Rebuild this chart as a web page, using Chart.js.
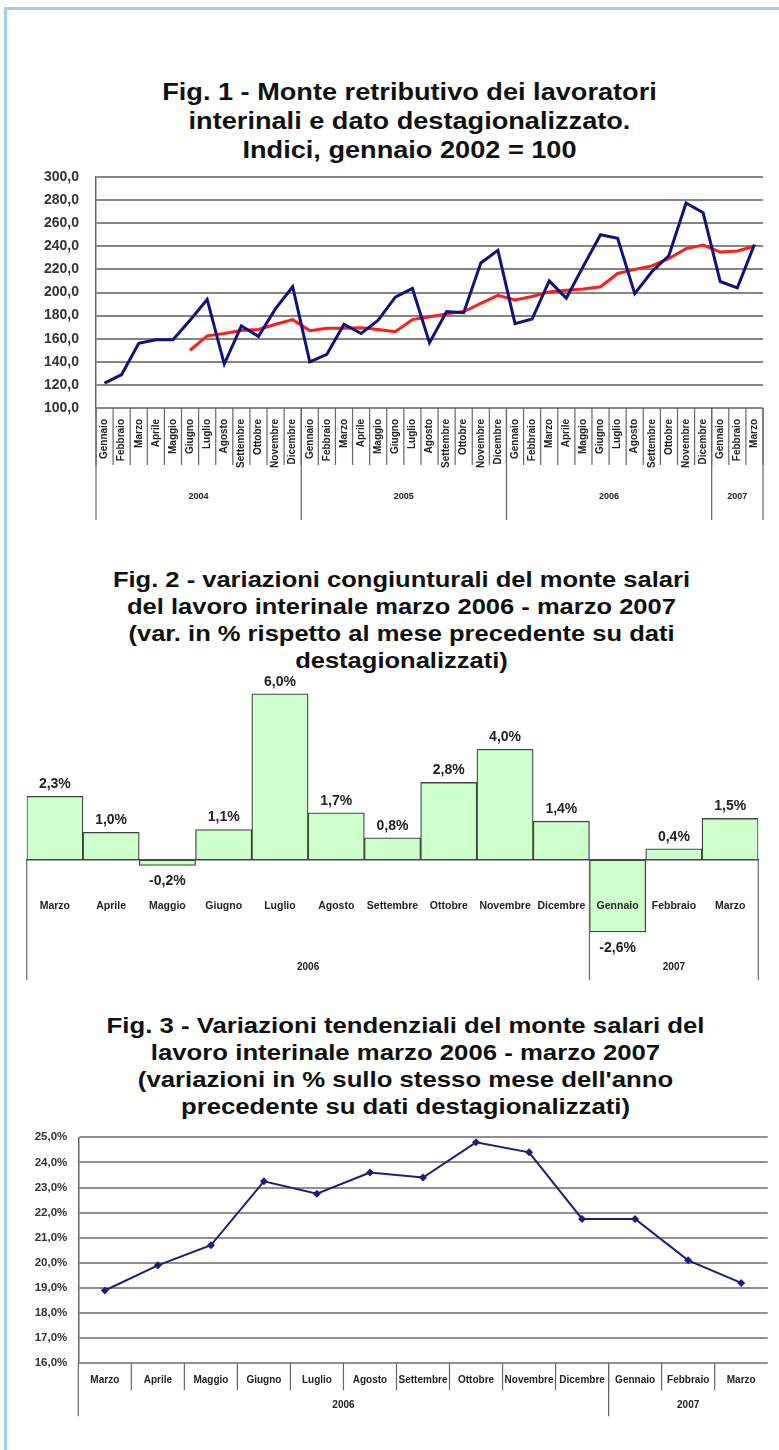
<!DOCTYPE html>
<html>
<head>
<meta charset="utf-8">
<script src="https://cdn.jsdelivr.net/npm/chart.js@4.4.1/dist/chart.umd.min.js"></script>
<style>
  body { margin: 0; background: #fff; }
  #page { position: relative; width: 779px; height: 1450px; overflow: hidden; background: #fff; }
  #frame { position: absolute; left: 4px; top: 7px; width: 820px; height: 1500px; border: 3px solid #9fcdff; box-sizing: border-box; }
  .title { position: absolute; width: 779px; text-align: center; font-family: "Liberation Sans", Arial, sans-serif; font-weight: bold; color: #111; }
  canvas { position: absolute; left: 0; }
</style>
</head>
<body>
<div id="page">
  <div id="frame"></div>

  <div class="title" style="left:20px; top:78px; font-size:23px; line-height:29px; transform:scaleX(1.18);">
    Fig. 1 - Monte retributivo dei lavoratori<br>interinali e dato destagionalizzato.<br>Indici, gennaio 2002 = 100
  </div>
  <canvas id="fig1" width="779" height="365" style="top:165px"></canvas>

  <div class="title" style="left:12px; top:566px; font-size:22px; line-height:27px; transform:scaleX(1.16);">
    Fig. 2 - variazioni congiunturali del monte salari<br>del lavoro interinale marzo 2006 - marzo 2007<br>(var. in % rispetto al mese precedente su dati<br>destagionalizzati)
  </div>
  <canvas id="fig2" width="779" height="320" style="top:670px"></canvas>

  <div class="title" style="left:16px; top:1012px; font-size:22px; line-height:27px; transform:scaleX(1.17);">
    Fig. 3 - Variazioni tendenziali del monte salari del<br>lavoro interinale marzo 2006 - marzo 2007<br>(variazioni in % sullo stesso mese dell'anno<br>precedente su dati destagionalizzati)
  </div>
  <canvas id="fig3" width="779" height="300" style="top:1125px"></canvas>
</div>

<script>
// Fig. 1 - monthly index, Jan 2004 - Mar 2007
const months1 = [
  'Gennaio','Febbraio','Marzo','Aprile','Maggio','Giugno','Luglio','Agosto','Settembre','Ottobre','Novembre','Dicembre',
  'Gennaio','Febbraio','Marzo','Aprile','Maggio','Giugno','Luglio','Agosto','Settembre','Ottobre','Novembre','Dicembre',
  'Gennaio','Febbraio','Marzo','Aprile','Maggio','Giugno','Luglio','Agosto','Settembre','Ottobre','Novembre','Dicembre',
  'Gennaio','Febbraio','Marzo'
];
const years1 = ['2004', '2005', '2006', '2007'];
const yearSpans1 = [12, 12, 12, 3];
const grezzo = [
  121.5, 129, 156, 159, 159, 176, 194, 138, 171, 162, 186, 205,
  140, 146.5, 172.5, 164.5, 176, 196, 203.5, 156.5, 183.5, 182.5, 225.5, 236.5,
  173, 177, 210, 195, 223, 250, 247, 199, 218, 232, 277.5, 269,
  209.5, 204, 241.5
];
const destag = [
  null, null, null, null, null, 150, 162.5, 164.5, 167, 168, 172.5, 176.5,
  167, 169, 169, 169.5, 168, 166, 176.5, 179, 181.5, 183.5, 190.5, 197.5,
  193.5, 196.5, 200.5, 202, 203, 205, 216.5, 220, 223, 229.5, 238, 241,
  235, 236, 240
];

// Fig. 2 - month on month change, Mar 2006 - Mar 2007
const months2 = ['Marzo','Aprile','Maggio','Giugno','Luglio','Agosto','Settembre','Ottobre','Novembre','Dicembre','Gennaio','Febbraio','Marzo'];
const years2 = ['2006', '2007'];
const yearSpans2 = [10, 3];
const congiunturali = [2.3, 1.0, -0.2, 1.1, 6.0, 1.7, 0.8, 2.8, 4.0, 1.4, -2.6, 0.4, 1.5];

// Fig. 3 - year on year change, Mar 2006 - Mar 2007
const tendenziali = [18.9, 19.9, 20.7, 23.25, 22.75, 23.6, 23.4, 24.8, 24.4, 21.75, 21.75, 20.1, 19.2];

Chart.defaults.font.family = '"Liberation Sans", Arial, sans-serif';
Chart.defaults.color = '#222';

const comma = (v, d) => v.toFixed(d).replace('.', ',');

// fixed axis width, and no extra top/bottom room taken by the tick padding
const fixWidth = w => s => { s.width = w; s.paddingTop = 0; s.paddingBottom = 0; };

// draws the month separators and the year row below the category axis
const groupAxis = {
  id: 'groupAxis',
  afterDraw(chart, args, o) {
    if (!o.years) return;
    const x = chart.scales.x;
    const ctx = chart.ctx;
    const n = chart.data.labels.length;
    const step = x.getPixelForValue(1) - x.getPixelForValue(0);
    const edge = i => x.getPixelForValue(0) - step / 2 + i * step;
    const y0 = o.base === undefined ? chart.chartArea.bottom : chart.scales.y.getPixelForValue(o.base);

    ctx.save();
    ctx.strokeStyle = o.color || '#666';
    ctx.lineWidth = 1.2;
    if (o.monthLen) {
      for (let i = o.monthFirst ? 0 : 1; i <= (o.monthLast ? n : n - 1); i++) {
        ctx.beginPath();
        ctx.moveTo(edge(i), y0);
        ctx.lineTo(edge(i), y0 + o.monthLen);
        ctx.stroke();
      }
    }
    let start = 0;
    ctx.font = 'bold ' + (o.fontSize || 10) + 'px "Liberation Sans", Arial, sans-serif';
    ctx.fillStyle = '#222';
    ctx.textAlign = 'center';
    ctx.textBaseline = 'middle';
    o.years.forEach((yr, k) => {
      const end = start + o.spans[k];
      ctx.beginPath();
      ctx.moveTo(edge(start), y0);
      ctx.lineTo(edge(start), y0 + o.yearLen);
      ctx.stroke();
      if (k === o.years.length - 1 && o.yearRight) {
        ctx.beginPath();
        ctx.moveTo(edge(end), y0);
        ctx.lineTo(edge(end), y0 + o.yearLen);
        ctx.stroke();
      }
      ctx.fillText(yr, (edge(start) + edge(end)) / 2, y0 + o.labelY);
      start = end;
    });
    ctx.restore();
  }
};

// value labels above / below the bars of fig. 2
const barLabels = {
  id: 'barLabels',
  afterDatasetsDraw(chart, args, o) {
    if (!o.show) return;
    const ctx = chart.ctx;
    const meta = chart.getDatasetMeta(0);
    ctx.save();
    ctx.font = 'bold 14px "Liberation Sans", Arial, sans-serif';
    ctx.fillStyle = '#222';
    ctx.textAlign = 'center';
    ctx.textBaseline = 'middle';
    meta.data.forEach((bar, i) => {
      const v = chart.data.datasets[0].data[i];
      ctx.fillText(comma(v, 1) + '%', bar.x, v >= 0 ? bar.y - 12 : bar.y + 16);
    });
    ctx.restore();
  }
};

Chart.register(groupAxis, barLabels);

new Chart(document.getElementById('fig1'), {
  type: 'line',
  data: {
    labels: months1,
    datasets: [
      { label: 'grezzo', data: grezzo, borderColor: '#12127c', borderWidth: 3, pointRadius: 0, tension: 0 },
      { label: 'destagionalizzato', data: destag, borderColor: '#ff1c1c', borderWidth: 3, pointRadius: 0, tension: 0 }
    ]
  },
  options: {
    responsive: false,
    animation: false,
    layout: { padding: { top: 12, right: 16, left: 0, bottom: 0 } },
    plugins: {
      legend: { display: false },
      tooltip: { enabled: false },
      groupAxis: { years: years1, spans: yearSpans1, monthLen: 57, monthFirst: true, monthLast: true, yearLen: 112, yearRight: true, labelY: 89, fontSize: 9 }
    },
    scales: {
      x: {
        offset: true,
        grid: { display: false, offset: true },
        border: { display: false },
        afterFit: s => { s.height = 122; },
        ticks: { autoSkip: false, minRotation: 90, maxRotation: 90, padding: 3, font: { size: 10, weight: 'bold' }, color: '#222' }
      },
      y: {
        min: 100,
        max: 300,
        afterFit: fixWidth(96),
        grid: { color: '#858585', lineWidth: 2, drawTicks: false },
        border: { color: '#666', width: 1.5 },
        ticks: { stepSize: 20, padding: 17, font: { size: 14, weight: 'bold' }, color: '#333', callback: v => comma(v, 1) }
      }
    }
  }
});

new Chart(document.getElementById('fig2'), {
  type: 'bar',
  data: {
    labels: months2,
    datasets: [{
      label: 'variazioni congiunturali',
      data: congiunturali,
      backgroundColor: '#ccffcc',
      borderColor: '#444',
      borderWidth: 1.3,
      borderSkipped: false,
      categoryPercentage: 1,
      barPercentage: 1
    }]
  },
  options: {
    responsive: false,
    animation: false,
    layout: { padding: { top: 10, right: 20.7, left: 26.7, bottom: 47 } },
    plugins: {
      legend: { display: false },
      tooltip: { enabled: false },
      barLabels: { show: true },
      groupAxis: { years: years2, spans: yearSpans2, base: 0, monthLen: 0, yearLen: 120, yearRight: true, labelY: 107, fontSize: 10 }
    },
    scales: {
      x: {
        position: { y: 0 },
        grid: { display: false },
        border: { display: true, color: '#555', width: 1.5 },
        ticks: { z: 1, autoSkip: false, maxRotation: 0, padding: 32, font: { size: 10.5, weight: 'bold' }, color: '#222' }
      },
      y: { display: false, min: -3, max: 6.5 }
    }
  }
});

new Chart(document.getElementById('fig3'), {
  type: 'line',
  data: {
    labels: months2,
    datasets: [{
      label: 'variazioni tendenziali',
      data: tendenziali,
      borderColor: '#1d1d7c',
      backgroundColor: '#1d1d7c',
      borderWidth: 2,
      tension: 0,
      pointStyle: 'rectRot',
      pointRadius: 4,
      pointBorderWidth: 0
    }]
  },
  options: {
    responsive: false,
    animation: false,
    layout: { padding: { top: 12.3, right: 11.3, left: 0, bottom: 0 } },
    plugins: {
      legend: { display: false },
      tooltip: { enabled: false },
      groupAxis: { years: years2, spans: yearSpans2, monthLen: 27, monthFirst: false, monthLast: false, yearLen: 53, yearRight: false, labelY: 42, fontSize: 10 }
    },
    scales: {
      x: {
        offset: true,
        grid: { display: false, offset: true },
        border: { display: false },
        afterFit: s => { s.height = 61.7; },
        ticks: { autoSkip: false, maxRotation: 0, padding: 3, font: { size: 10, weight: 'bold' }, color: '#222' }
      },
      y: {
        min: 16,
        max: 25,
        afterFit: fixWidth(78.3),
        grid: { color: '#909090', lineWidth: 2, drawTicks: false },
        border: { color: '#666', width: 1.5 },
        ticks: { stepSize: 1, padding: 11, font: { size: 11.5, weight: 'bold' }, color: '#333', callback: v => comma(v, 1) + '%' }
      }
    }
  }
});
</script>
</body>
</html>
